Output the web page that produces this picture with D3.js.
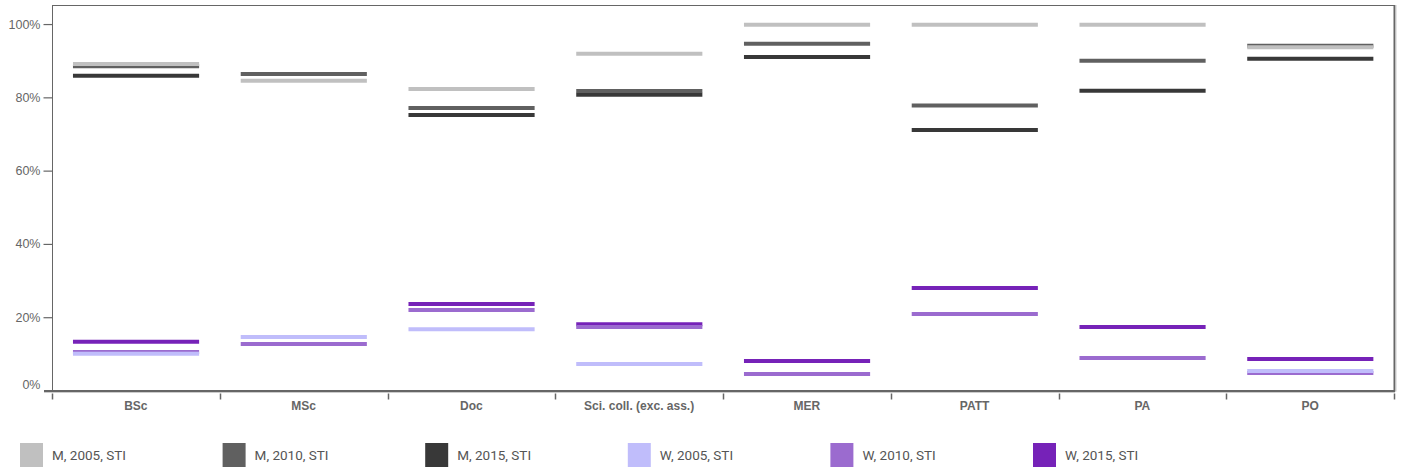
<!DOCTYPE html>
<html><head><meta charset="utf-8">
<script src="https://cdn.jsdelivr.net/npm/d3@7"></script>
<style>
body{margin:0;background:#fff;}
svg{display:block;}
</style></head>
<body><svg id="chart" width="1401" height="467"></svg>
<script>
const categories = ["BSc","MSc","Doc","Sci. coll. (exc. ass.)","MER","PATT","PA","PO"];
const seriesNames = ["M, 2005, STI","M, 2010, STI","M, 2015, STI","W, 2005, STI","W, 2010, STI","W, 2015, STI"];
const seriesColors = ["#c0c0c0","#606060","#383838","#c0bdfb","#9b6bcf","#7622b8"];
const m2005 = [89.1, 84.5, 82.3, 91.9, 99.8, 99.8, 99.8, 93.7];
const m2010 = [88.5, 86.4, 77.1, 81.7, 94.6, 77.8, 90.0, 94.1];
const m2015 = [85.9, null, 75.2, 80.7, 91.0, 71.1, 81.8, 90.5];
const w2005 = [10.0, 14.6, 16.7, 7.2, null, null, null, 5.3];
const w2010 = [10.5, 12.7, 22.0, 17.3, 4.5, 20.9, 8.9, 4.8];
const w2015 = [13.3, null, 23.6, 18.1, 8.05, 28.0, 17.3, 8.6];
const yTicks = [0,20,40,60,80,100];

const seriesValues = [m2005,m2010,m2015,w2005,w2010,w2015];
const svg = d3.select("#chart");
const L = 52, R = 1394, T = 5, B = 390.5;

const x = d3.scaleBand().domain(categories).range([L, R]).padding(0);
const y = d3.scaleLinear().domain([0, 105.2]).range([B, T]);

// frame
svg.append("line").attr("x1",L).attr("x2",R+1).attr("y1",T+0.5).attr("y2",T+0.5).attr("stroke","#666").attr("stroke-width",1.2);
svg.append("line").attr("x1",R+0.5).attr("x2",R+0.5).attr("y1",T).attr("y2",B+1).attr("stroke","#666").attr("stroke-width",2);
svg.append("line").attr("x1",R+2).attr("x2",R+2).attr("y1",T).attr("y2",B+1).attr("stroke","#ccc").attr("stroke-width",1);

// y axis
const yAxis = svg.append("g").attr("transform",`translate(${L+0.5},0)`)
  .call(d3.axisLeft(y).tickValues(yTicks).tickSize(9).tickPadding(3).tickFormat(d=>d+"%"));
yAxis.select(".domain").attr("stroke","#666").attr("d",`M0,${T}V${B}`);
yAxis.selectAll(".tick line").attr("stroke","#666").attr("stroke-width",1.2);
yAxis.selectAll(".tick text").attr("fill","#666").style("font-family","Liberation Sans, Arial, sans-serif").style("font-size","12.5px");
yAxis.selectAll(".tick").filter(d=>d===0).select("text").attr("dy","-0.2em");
yAxis.selectAll(".tick").filter(d=>d===0).select("line").remove();

// x axis
const xAxis = svg.append("g").attr("transform",`translate(0,${B+1})`)
  .call(d3.axisBottom(x).tickSize(0).tickPadding(10));
xAxis.select(".domain").remove();
xAxis.selectAll(".tick text").attr("fill","#666").style("font-family","Liberation Sans, Arial, sans-serif").style("font-size","12px").style("font-weight","bold");
svg.append("line").attr("x1",L-8).attr("x2",R+1).attr("y1",B+0.5).attr("y2",B+0.5).attr("stroke","#666").attr("stroke-width",2);
svg.append("line").attr("x1",L-8).attr("x2",R+1).attr("y1",B+2).attr("y2",B+2).attr("stroke","#ccc").attr("stroke-width",1);
const bounds = categories.map(c=>x(c)).concat([x(categories[categories.length-1])+x.bandwidth()]);
svg.append("g").selectAll("line").data(bounds).join("line")
  .attr("x1",d=>Math.round(d)+0.5).attr("x2",d=>Math.round(d)+0.5)
  .attr("y1",B+3).attr("y2",B+9).attr("stroke","#666").attr("stroke-width",1.5);

// marks: draw in reverse year order within each gender
const order = [2,1,0,5,4,3];
const bw = x.bandwidth();
const marks = svg.append("g");
order.forEach(si=>{
  const vals = seriesValues[si];
  marks.append("g").selectAll("line")
    .data(categories.map((c,i)=>({c, v: vals[i]})).filter(d=>d.v!=null))
    .join("line")
    .attr("x1",d=>x(d.c)+bw*0.125)
    .attr("x2",d=>x(d.c)+bw*0.877)
    .attr("y1",d=>y(d.v)).attr("y2",d=>y(d.v))
    .attr("stroke",seriesColors[si]).attr("stroke-width",4);
});

// legend
const leg = svg.append("g").selectAll("g").data(seriesNames).join("g")
  .attr("transform",(d,i)=>`translate(${20 + i*202.6},443)`);
leg.append("rect").attr("width",23).attr("height",24).attr("fill",(d,i)=>seriesColors[i]);
leg.append("text").attr("x",32).attr("y",12).attr("dy","0.35em").text(d=>d)
  .attr("fill","#555").style("font-family","Roboto, sans-serif").style("font-size","13.5px");
</script></body></html>
